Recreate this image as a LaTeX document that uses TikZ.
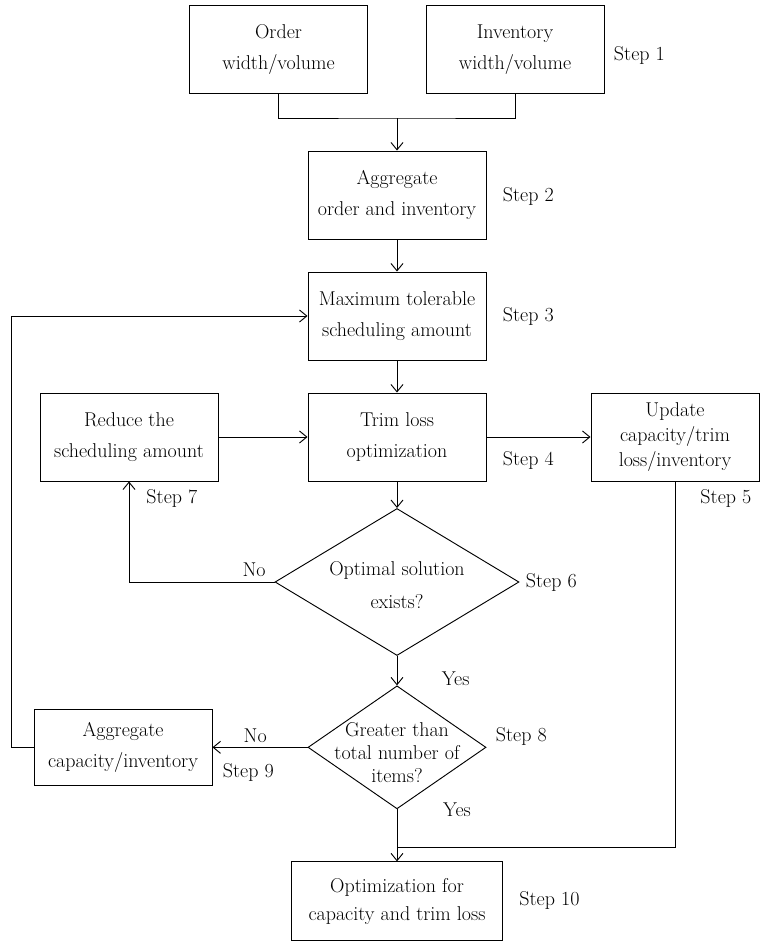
\documentclass[tikz,border=0pt]{standalone}
\usepackage{fontspec}
\usetikzlibrary{shapes.geometric,arrows.meta}
\tikzstyle{block} = [rectangle, draw, align=center, inner sep=0pt,
    minimum width=133.5pt, minimum height=66pt]
\tikzstyle{decision} = [diamond, draw, inner sep=0pt]
\tikzstyle{line} = [draw, -{Straight Barb[length=5.5pt,width=9pt]}]
\tikzstyle{steplabel} = [inner sep=0pt, anchor=west]
\begin{document}
\begin{tikzpicture}[x=0.75pt, y=-0.75pt, node distance=90.75pt, line width=0.7pt,
    font=\fontsize{15}{23}\selectfont]
    \useasboundingbox (0,0) rectangle (760,942);
    % Place nodes
    \node [block] (order) at (278.5,49.5) {Order\\width/volume};
    \node [block, right of=order, node distance=177.4pt] (inv) {Inventory\\width/volume};
    \node [block] (agg) at (397,195) {Aggregate\\order and inventory};
    \node [block, below of=agg] (maxamt) {Maximum tolerable\\scheduling amount};
    \node [block, below of=maxamt] (trim) {Trim loss\\optimization};
    \node [block, left of=trim, node distance=201pt] (reduce) {Reduce the\\scheduling amount};
    \node [block, right of=trim, node distance=208.5pt, minimum width=126pt,
        font=\fontsize{15}{19}\selectfont] (update) {Update\\capacity/trim\\loss/inventory};
    \node [decision, below of=trim, node distance=108.75pt, minimum width=183pt, minimum height=110.25pt,
        label={[align=center, yshift=-2pt, font=\fontsize{15}{24.75}\selectfont]center:Optimal solution\\exists?}] (optimal) {};
    \node [decision, below of=optimal, node distance=124pt, minimum width=133.5pt, minimum height=92.25pt,
        label={[align=center, yshift=-4pt, font=\fontsize{15}{17.25}\selectfont]center:Greater than\\total number of\\items?}] (greater) {};
    \node [block, left of=greater, node distance=205.5pt, minimum height=57pt] (aggcap) {Aggregate\\capacity/inventory};
    \node [block, below of=greater, node distance=115.5pt, minimum width=158.25pt, minimum height=59.25pt,
        font=\fontsize{15}{21}\selectfont] (final) {Optimization for\\capacity and trim loss};
    \coordinate [above of=agg, node distance=57.75pt] (join);
    \coordinate [above of=final, node distance=40.1pt] (merge);
    % Step labels
    \node [steplabel] (s1) at ([shift={(9,5.5)}]inv.east) {Step 1};
    \node [steplabel] (s2) at ([shift={(16,1)}]agg.east) {Step 2};
    \node [steplabel] (s3) at ([shift={(16,0)}]maxamt.east) {Step 3};
    \node [steplabel] (s4) at ([shift={(16,23)}]trim.east) {Step 4};
    \node [steplabel] (s5) at ([shift={(25,17)}]update.south) {Step 5};
    \node [steplabel] (s6) at ([shift={(6,0)}]optimal.east) {Step 6};
    \node [steplabel] (s7) at ([shift={(17,17)}]reduce.south) {Step 7};
    \node [steplabel] (s8) at ([shift={(9,-11)}]greater.east) {Step 8};
    \node [steplabel] (s9) at ([shift={(10,25)}]aggcap.east) {Step 9};
    \node [steplabel] (s10) at ([shift={(16,-1)}]final.east) {Step 10};
    % Draw edges
    \draw (order) |- (join) -| (inv);
    \path [line] (join) -- (agg);
    \path [line] (agg) -- (maxamt);
    \path [line] (maxamt) -- (trim);
    \path [line] (reduce) -- (trim);
    \path [line] (trim) -- (update);
    \path [line] (trim) -- (optimal);
    \path [line] (optimal) -| node [pos=0.07, above] {No} (reduce);
    \path [line] (optimal) -- node [pos=0.77, right, xshift=30pt] {Yes} (greater);
    \path [line] (greater) -- node [pos=0.55, above] {No} (aggcap);
    \path [line] (greater) -- node [pos=0, right, xshift=31pt] {Yes} (final);
    \draw (update) |- (merge);
    \path [line] (aggcap.west) -- ++(-22,0) |- (maxamt);
\end{tikzpicture}
\end{document}
